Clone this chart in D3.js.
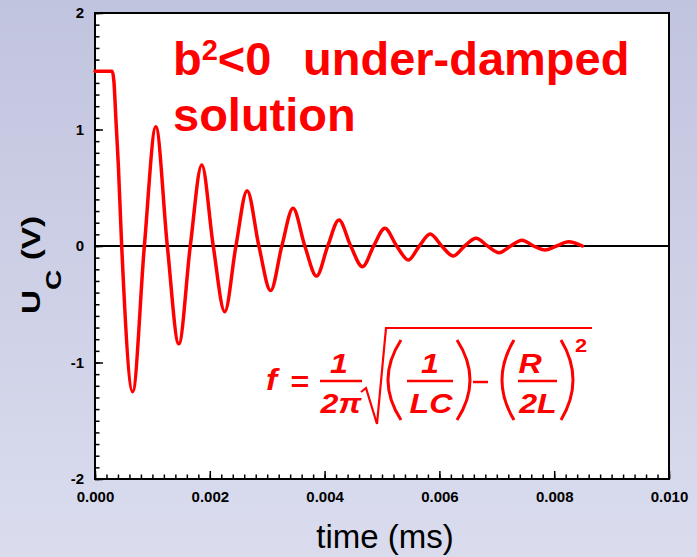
<!DOCTYPE html>
<html>
<head>
<meta charset="utf-8">
<script src="https://cdn.jsdelivr.net/npm/d3@7"></script>
<style>
  html, body { margin: 0; padding: 0; }
  body { width: 697px; height: 557px; overflow: hidden; }
  svg { display: block; }
  text { font-family: "Liberation Sans", Arial, sans-serif; }
</style>
</head>
<body>
<svg id="chart" width="697" height="557"></svg>
<script>
// ---- data ----
const timeValues = [0, 0.0003, 0.00033, 0.000366, 0.000406, 0.000465, 0.000656, 0.00086, 0.00106, 0.00126,
  0.00146, 0.00166, 0.00186, 0.00206, 0.00226, 0.002455, 0.00265, 0.002855, 0.00306, 0.003255,
  0.00345, 0.003655, 0.00386, 0.004055, 0.00425, 0.004455, 0.00466, 0.004855, 0.00505, 0.005255,
  0.00546, 0.00565, 0.00584, 0.00604, 0.00624, 0.00644, 0.00664, 0.00684, 0.00704, 0.00724,
  0.00744, 0.00764, 0.00784, 0.00804, 0.00825, 0.00849];
const voltageValues = [1.5, 1.5, 1.41, 1.07, 0.70, 0, -1.25, 0, 1.024, 0,
  -0.84, 0, 0.695, 0, -0.564, 0, 0.475, 0, -0.383, 0,
  0.323, 0, -0.258, 0, 0.223, 0, -0.178, 0, 0.152, 0,
  -0.12, 0, 0.103, 0, -0.086, 0, 0.066, 0, -0.057, 0,
  0.05, 0, -0.034, 0, 0.037, 0.0];
const xTickValues = [0, 0.002, 0.004, 0.006, 0.008, 0.010];
const xTickLabels = ["0.000", "0.002", "0.004", "0.006", "0.008", "0.010"];
const yTickValues = [-2, -1, 0, 1, 2];
const yTickLabels = ["-2", "-1", "0", "1", "2"];
const xDomain = [0, 0.010];
const yDomain = [-2, 2];

// ---- layout ----
const svg = d3.select("#chart");
const W = 697, H = 557;
const plot = { left: 95, right: 669, top: 13, bottom: 479 };

const defs = svg.append("defs");
const grad = defs.append("linearGradient").attr("id", "bg").attr("x1", 0).attr("y1", 0).attr("x2", 0).attr("y2", 1);
grad.append("stop").attr("offset", "0%").attr("stop-color", "#c1c4de");
grad.append("stop").attr("offset", "100%").attr("stop-color", "#dadcee");
svg.append("rect").attr("width", W).attr("height", H).attr("fill", "url(#bg)");

const x = d3.scaleLinear().domain(xDomain).range([plot.left, plot.right]);
const y = d3.scaleLinear().domain(yDomain).range([plot.bottom, plot.top]);

// plot area
svg.append("rect")
  .attr("x", plot.left).attr("y", plot.top)
  .attr("width", plot.right - plot.left).attr("height", plot.bottom - plot.top)
  .attr("fill", "#ffffff");

// zero line
svg.append("line")
  .attr("x1", x(xDomain[0])).attr("x2", x(xDomain[1]))
  .attr("y1", y(0)).attr("y2", y(0))
  .attr("stroke", "#000").attr("stroke-width", 2);

// minor ticks
const yMinor = d3.range(-20, 21).map(d => d / 10);
const xMinor = d3.range(0, 51).map(d => d * 0.0002);

const yMinorAxis = d3.axisLeft(y).tickValues(yMinor).tickSize(-4.5).tickFormat("");
svg.append("g").attr("transform", `translate(${plot.left},0)`).call(yMinorAxis)
  .call(g => g.select(".domain").remove())
  .call(g => g.selectAll("line").attr("stroke", "#000").attr("stroke-width", 1.5));

const xMinorAxis = d3.axisBottom(x).tickValues(xMinor).tickSize(-4.5).tickFormat("");
svg.append("g").attr("transform", `translate(0,${plot.bottom})`).call(xMinorAxis)
  .call(g => g.select(".domain").remove())
  .call(g => g.selectAll("line").attr("stroke", "#000").attr("stroke-width", 1.5));

// major ticks
const yAxis = d3.axisLeft(y).tickValues(yTickValues).tickSize(-8).tickPadding(11)
  .tickFormat((d, i) => yTickLabels[i]);
svg.append("g").attr("transform", `translate(${plot.left},0)`).call(yAxis)
  .call(g => g.select(".domain").remove())
  .call(g => g.selectAll("line").attr("stroke", "#000").attr("stroke-width", 1.5))
  .call(g => g.selectAll("text").attr("fill", "#000")
      .style("font-family", "'Liberation Sans', Arial, sans-serif")
      .style("font-size", "15px").style("font-weight", "bold"));

const xAxis = d3.axisBottom(x).tickValues(xTickValues).tickSize(-8).tickPadding(12)
  .tickFormat((d, i) => xTickLabels[i]);
svg.append("g").attr("transform", `translate(0,${plot.bottom})`).call(xAxis)
  .call(g => g.select(".domain").remove())
  .call(g => g.selectAll("line").attr("stroke", "#000").attr("stroke-width", 1.5))
  .call(g => g.selectAll("text").attr("fill", "#000")
      .style("font-family", "'Liberation Sans', Arial, sans-serif")
      .style("font-size", "15px").style("font-weight", "bold"));

// border
svg.append("rect")
  .attr("x", plot.left).attr("y", plot.top)
  .attr("width", plot.right - plot.left).attr("height", plot.bottom - plot.top)
  .attr("fill", "none").attr("stroke", "#000").attr("stroke-width", 2);

// curve
const series = timeValues.map((t, i) => ({ t, v: voltageValues[i] }));
const line = d3.line().x(d => x(d.t)).y(d => y(d.v)).curve(d3.curveMonotoneX);
svg.append("path").datum(series)
  .attr("d", line)
  .attr("fill", "none").attr("stroke", "#ff0000").attr("stroke-width", 3.5)
  .attr("stroke-linejoin", "round").attr("stroke-linecap", "round");

// axis titles
svg.append("text")
  .attr("x", 385).attr("y", 548)
  .attr("text-anchor", "middle")
  .style("font-size", "33px").attr("fill", "#000")
  .text("time (ms)");

const yl = svg.append("text")
  .attr("transform", "translate(40,265) rotate(-90) scale(1.28,1)")
  .attr("text-anchor", "middle")
  .style("font-size", "26px").style("font-weight", "bold").attr("fill", "#000");
yl.append("tspan").text("U");
yl.append("tspan").attr("dy", 21).style("font-size", "22px").text("C");
yl.append("tspan").attr("dy", -21).text("\u00a0(V)");

// title
const red = "#ff0000";
const t1 = svg.append("text").attr("x", 173).attr("y", 75)
  .style("font-size", "47px").style("font-weight", "bold").attr("fill", red);
t1.append("tspan").text("b");
t1.append("tspan").attr("dy", -15).style("font-size", "29px").text("2");
t1.append("tspan").attr("dy", 15).text("<0");
t1.append("tspan").attr("x", 303).text("under-damped");
svg.append("text").attr("x", 173).attr("y", 131)
  .style("font-size", "47px").style("font-weight", "bold").attr("fill", red)
  .text("solution");

// formula
const fg = svg.append("g").attr("fill", red);
function ftext(tx, ty, s, size, anchor, italic) {
  fg.append("text")
    .attr("transform", `translate(${tx},${ty}) scale(1.15,1)`)
    .attr("text-anchor", anchor || "start")
    .style("font-size", (size || 27) + "px").style("font-weight", "bold")
    .style("font-style", italic === false ? "normal" : "italic")
    .text(s);
}
ftext(266, 390, "f", 29);
ftext(300, 391, "=", 28, "middle", false);
ftext(339, 373, "1", 28, "middle");
ftext(341, 413, "2\u03c0", 28, "middle");
ftext(430, 373, "1", 28, "middle");
ftext(431, 413, "LC", 28, "middle");
ftext(530, 373, "R", 28, "middle");
ftext(538, 413, "2L", 28, "middle");
ftext(575, 352, "2", 19, "start", false);

const fs = svg.append("g").attr("stroke", red).attr("fill", "none");
[[320, 362], [407, 453], [518, 557]].forEach(b => {
  fs.append("line").attr("x1", b[0]).attr("x2", b[1]).attr("y1", 381).attr("y2", 381).attr("stroke-width", 2.5);
});
fs.append("line").attr("x1", 473).attr("x2", 488).attr("y1", 382).attr("y2", 382).attr("stroke-width", 2.5);
fs.append("path").attr("d", "M361,392 L366,388 L377,424 L386,328 L592,328")
  .attr("stroke-width", 2.2).attr("stroke-linejoin", "miter");
fs.append("path").attr("d", "M401,340 Q375,380 401,420").attr("stroke-width", 3);
fs.append("path").attr("d", "M457,340 Q483,380 457,420").attr("stroke-width", 3);
fs.append("path").attr("d", "M514,340 Q490,380 514,420").attr("stroke-width", 3);
fs.append("path").attr("d", "M561,340 Q585,380 561,420").attr("stroke-width", 3);
</script>
</body>
</html>
